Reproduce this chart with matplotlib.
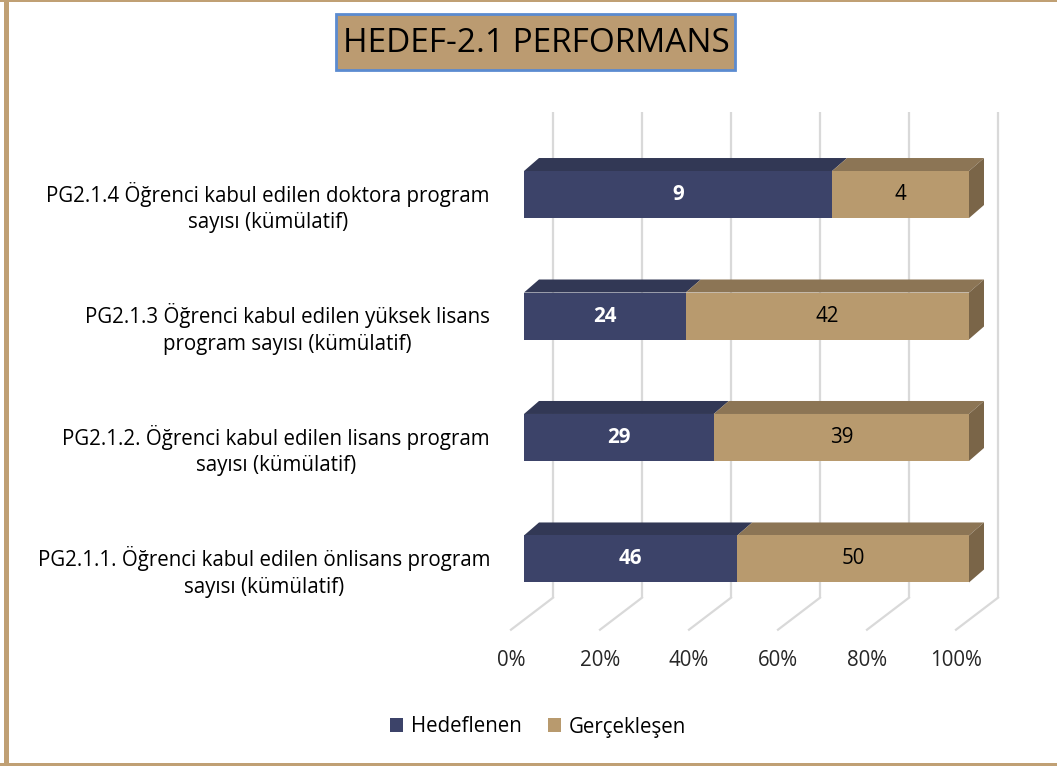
import matplotlib.pyplot as plt
from matplotlib.patches import Polygon, Rectangle, Patch
from matplotlib.transforms import offset_copy

# ============================================
# Data
# ============================================

categories = [
    "PG2.1.1. Öğrenci kabul edilen önlisans program\nsayısı (kümülatif)",
    "PG2.1.2. Öğrenci kabul edilen lisans program\nsayısı (kümülatif)",
    "PG2.1.3 Öğrenci kabul edilen yüksek lisans\nprogram sayısı (kümülatif)",
    "PG2.1.4 Öğrenci kabul edilen doktora program\nsayısı (kümülatif)",
]
hedeflenen = [46, 29, 24, 9]
gerceklesen = [50, 39, 42, 4]
series_names = ["Hedeflenen", "Gerçekleşen"]
ticks = [0, 20, 40, 60, 80, 100]
title = "HEDEF-2.1 PERFORMANS"

# ============================================
# Style
# ============================================

FONT = "Open Sans"
FS = 14.8
NAVY = "#3C4369"
NAVY_TOP = "#323855"
TAN = "#B89A6E"
TAN_TOP = "#8C7555"
TAN_SIDE = "#7A6548"
GRID = "#D9D9D9"
FRAME = "#C0A074"

W, H = 1057, 766
fig = plt.figure(figsize=(W / 100, H / 100), dpi=100)

# front plane of the bars, in pixels
ax_left, ax_right = 524, 969
ax_top, ax_bot = 100, 640
ax = fig.add_axes([ax_left / W, (H - ax_bot) / H,
                   (ax_right - ax_left) / W, (ax_bot - ax_top) / H])
ax.set_xlim(0, 100)
ax.set_ylim(-0.667, 3.778)
ax.axis("off")

px_x = (ax_right - ax_left) / 100.0
px_y = (ax_bot - ax_top) / (3.778 + 0.667)


def dx(p):
    return p / px_x


def dy(p):
    return p / px_y


bar_h = 47 / px_y
bar_depth = (15, 13)
wall = (29, 22)
floor_front = (-13, -10)
y_floor, y_top = -0.5, 3.5

# ============================================
# Gridlines (back wall + floor)
# ============================================

for v in ticks:
    bx = v + dx(wall[0])
    ax.plot([bx, bx], [y_floor + dy(wall[1]), y_top + dy(wall[1])],
            color=GRID, lw=1.6, zorder=1, solid_capstyle="butt", clip_on=False)
    ax.plot([bx, v + dx(floor_front[0])],
            [y_floor + dy(wall[1]), y_floor + dy(floor_front[1])],
            color=GRID, lw=1.6, zorder=1, clip_on=False)
    ax.text(v, y_floor, f"{v}%",
            transform=offset_copy(ax.transData, fig, x=floor_front[0],
                                  y=floor_front[1] - 31, units="dots"),
            ha="center", va="center", fontsize=FS, family=FONT, color="#262626")

# ============================================
# 3D stacked bars (100%)
# ============================================

for i, (a, b) in enumerate(zip(hedeflenen, gerceklesen)):
    total = a + b
    pa = a / total * 100
    yb = i - bar_h / 2
    yt = i + bar_h / 2
    ox, oy = dx(bar_depth[0]), dy(bar_depth[1])
    segs = [(0, pa, NAVY_TOP), (pa, 100, TAN_TOP)]
    for x0, x1, top in segs:
        ax.add_patch(Polygon([(x0, yt), (x1, yt), (x1 + ox, yt + oy), (x0 + ox, yt + oy)],
                             closed=True, facecolor=top, edgecolor="none",
                             zorder=3, clip_on=False))
    ax.add_patch(Polygon([(100, yb), (100, yt), (100 + ox, yt + oy), (100 + ox, yb + oy)],
                         closed=True, facecolor=TAN_SIDE, edgecolor="none",
                         zorder=3, clip_on=False))
    ax.barh(i, pa, height=bar_h, left=0, color=NAVY, zorder=4)
    ax.barh(i, 100 - pa, height=bar_h, left=pa, color=TAN, zorder=4)
    ax.text(pa / 2, i, str(a), ha="center", va="center", color="white",
            fontsize=FS, fontweight="bold", family=FONT, zorder=5)
    ax.text((pa + 100) / 2, i, str(b), ha="center", va="center", color="black",
            fontsize=FS, family=FONT, zorder=5)
    ax.text(0, i, categories[i],
            transform=offset_copy(ax.transData, fig, x=-34, y=-13, units="dots"),
            ha="right", va="center", multialignment="center",
            fontsize=FS, family=FONT, color="black", linespacing=1.35)

# ============================================
# Title box
# ============================================

fig.patches.append(Rectangle((336 / W, 1 - 70 / H), (735 - 336) / W, 56 / H,
                             transform=fig.transFigure, facecolor="#BB9B71",
                             edgecolor="#5B8BD0", lw=2, zorder=1))
fig.text(536.5 / W, 1 - 43 / H, title, ha="center", va="center",
         fontsize=24, family=FONT, color="black", zorder=2)

# ============================================
# Legend
# ============================================

handles = [Patch(facecolor=NAVY, label=series_names[0]),
           Patch(facecolor=TAN, label=series_names[1])]
fig.legend(handles=handles, loc="center", bbox_to_anchor=(538 / W, 1 - 727 / H),
           ncol=2, frameon=False, handlelength=0.65, handleheight=0.65,
           handletextpad=0.35, columnspacing=1.3,
           prop={"family": FONT, "size": FS})

# ============================================
# Frame
# ============================================

fig.patches.append(Rectangle((4 / W, 0), 5 / W, 1, transform=fig.transFigure,
                             facecolor=FRAME, edgecolor="none"))
fig.patches.append(Rectangle((0, 1 - 2 / H), 1, 2 / H, transform=fig.transFigure,
                             facecolor=FRAME, edgecolor="none"))
fig.patches.append(Rectangle((0, 0), 1, 3 / H, transform=fig.transFigure,
                             facecolor=FRAME, edgecolor="none"))

fig.savefig("out.png", dpi=100)
